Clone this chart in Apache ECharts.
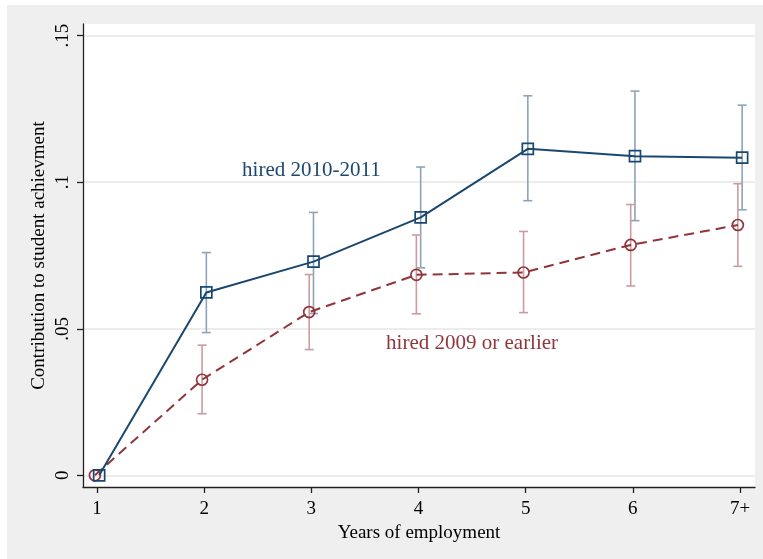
<!DOCTYPE html>
<html>
<head>
<meta charset="utf-8">
<script src="https://cdn.jsdelivr.net/npm/echarts@6/dist/echarts.min.js"></script>
<style>
  html, body { margin: 0; padding: 0; background: #fff; }
  #chart {
    width: 763px; height: 559px;
    background: #efefef;
    box-shadow: inset 7px 5px 0 0 #fff;
  }
</style>
</head>
<body>
<div id="chart"></div>
<script>
// Years of employment (7 = "7 or more")
const years = [1, 2, 3, 4, 5, 6, 7];
const yearLabels = ['1', '2', '3', '4', '5', '6', '7+'];

// Slightly dodged x positions so the two cohorts' bars don't overlap
const xNew = [1.02, 2.02, 3.02, 4.02, 5.02, 6.02, 7.02];
const xOld = [0.98, 1.98, 2.98, 3.98, 4.98, 5.98, 6.98];

// Teachers hired 2010-2011: point estimate and 95% CI
const newHires = [0, 0.0624, 0.0729, 0.0880, 0.1114, 0.1089, 0.1084];
const newLow   = [null, 0.0487, 0.0552, 0.0708, 0.0937, 0.0869, 0.0906];
const newHigh  = [null, 0.0760, 0.0897, 0.1052, 0.1295, 0.1311, 0.1263];

// Teachers hired 2009 or earlier: point estimate and 95% CI
const oldHires = [0, 0.0326, 0.0557, 0.0684, 0.0692, 0.0786, 0.0854];
const oldLow   = [null, 0.0210, 0.0429, 0.0551, 0.0555, 0.0646, 0.0713];
const oldHigh  = [null, 0.0444, 0.0685, 0.0820, 0.0832, 0.0924, 0.0995];

const yTicks = [0, 0.05, 0.1, 0.15];
const yTickLabels = ['0', '.05', '.1', '.15'];

// In-plot series captions: [x, y, text]
const captionNew = [3, 0.104, 'hired 2010-2011'];
const captionOld = [4.5, 0.045, 'hired 2009 or earlier'];

const NAVY = '#1a476f';
const NAVY_CI = '#8ca3b9';
const MAROON = '#90353b';
const MAROON_CI = '#cc9b9e';
const FONT = '"Liberation Serif", "Times New Roman", serif';

function zip(xs, ...cols) {
  const out = [];
  xs.forEach((x, i) => {
    const row = [x].concat(cols.map(c => c[i]));
    if (row.every(v => v !== null)) out.push(row);
  });
  return out;
}

function errorBars(color) {
  return function (params, api) {
    const x = api.value(0);
    const top = api.coord([x, api.value(2)]);
    const bot = api.coord([x, api.value(1)]);
    const half = 4.5;
    const style = { stroke: color, lineWidth: 1.6, fill: null };
    return {
      type: 'group',
      children: [
        { type: 'line', shape: { x1: top[0], y1: top[1], x2: bot[0], y2: bot[1] }, style },
        { type: 'line', shape: { x1: top[0] - half, y1: top[1], x2: top[0] + half, y2: top[1] }, style },
        { type: 'line', shape: { x1: bot[0] - half, y1: bot[1], x2: bot[0] + half, y2: bot[1] }, style }
      ]
    };
  };
}

// Captions are drawn as plain text centred on a data coordinate
function captions(list) {
  return function (params, api) {
    const item = list[params.dataIndex];
    const p = api.coord([item[0], item[1]]);
    return {
      type: 'text',
      x: p[0], y: p[1],
      style: {
        text: item[2],
        fill: item[3],
        font: '21px ' + FONT,
        align: 'center',
        verticalAlign: 'middle'
      }
    };
  };
}

function tickLabel(list, labels) {
  return v => {
    const i = list.findIndex(t => Math.abs(t - v) < 1e-9);
    return i >= 0 ? labels[i] : '';
  };
}

const captionList = [captionNew.concat(NAVY), captionOld.concat(MAROON)];

const chart = echarts.init(document.getElementById('chart'), null, { renderer: 'canvas' });

chart.setOption({
  animation: false,
  grid: {
    left: 83, right: 8, top: 24, bottom: 72,
    show: true, backgroundColor: '#ffffff', borderWidth: 0
  },
  xAxis: {
    type: 'value',
    min: 0.869, max: 7.14,
    name: 'Years of employment',
    nameLocation: 'middle',
    nameGap: 31,
    nameTextStyle: { fontFamily: FONT, fontSize: 19, color: '#000' },
    axisLine: { show: true, onZero: false, lineStyle: { color: '#222', width: 1.3 } },
    axisTick: { show: true, length: 6, customValues: years, lineStyle: { color: '#222', width: 1.3 } },
    axisLabel: {
      customValues: years,
      formatter: tickLabel(years, yearLabels),
      fontFamily: FONT, fontSize: 19, color: '#000', margin: 13
    },
    splitLine: { show: false }
  },
  yAxis: {
    type: 'value',
    min: -0.004, max: 0.154,
    name: 'Contribution to student achievment',
    nameLocation: 'middle',
    nameGap: 34,
    nameMoveOverlap: false,
    nameRotate: 90,
    nameTextStyle: { fontFamily: FONT, fontSize: 19, color: '#000' },
    axisLine: { show: true, lineStyle: { color: '#222', width: 1.3 } },
    axisTick: { show: true, length: 6, customValues: yTicks, lineStyle: { color: '#222', width: 1.3 } },
    axisLabel: {
      customValues: yTicks,
      rotate: 90,
      formatter: tickLabel(yTicks, yTickLabels),
      fontFamily: FONT, fontSize: 19, color: '#000', margin: 10
    },
    splitLine: { show: true, lineStyle: { color: '#e6e6e6', width: 1.5 } }
  },
  series: [
    {
      type: 'custom',
      name: 'CI hired 2010-2011',
      renderItem: errorBars(NAVY_CI),
      data: zip(xNew, newLow, newHigh),
      encode: { x: 0, y: [1, 2] },
      z: 2
    },
    {
      type: 'custom',
      name: 'CI hired 2009 or earlier',
      renderItem: errorBars(MAROON_CI),
      data: zip(xOld, oldLow, oldHigh),
      encode: { x: 0, y: [1, 2] },
      z: 2
    },
    {
      type: 'line',
      name: 'hired 2009 or earlier',
      data: zip(xOld, oldHires),
      symbol: 'circle',
      symbolSize: 11,
      itemStyle: { color: 'rgba(0,0,0,0)', borderColor: MAROON, borderWidth: 1.7 },
      lineStyle: { color: MAROON, width: 2, type: [10, 6] },
      z: 3
    },
    {
      type: 'line',
      name: 'hired 2010-2011',
      data: zip(xNew, newHires),
      symbol: 'rect',
      symbolSize: 11,
      itemStyle: { color: 'rgba(0,0,0,0)', borderColor: NAVY, borderWidth: 1.7 },
      lineStyle: { color: NAVY, width: 2 },
      z: 4
    },
    {
      type: 'custom',
      name: 'captions',
      silent: true,
      renderItem: captions(captionList),
      data: captionList.map(c => [c[0], c[1]]),
      encode: { x: 0, y: 1 },
      z: 5
    }
  ]
});
</script>
</body>
</html>
